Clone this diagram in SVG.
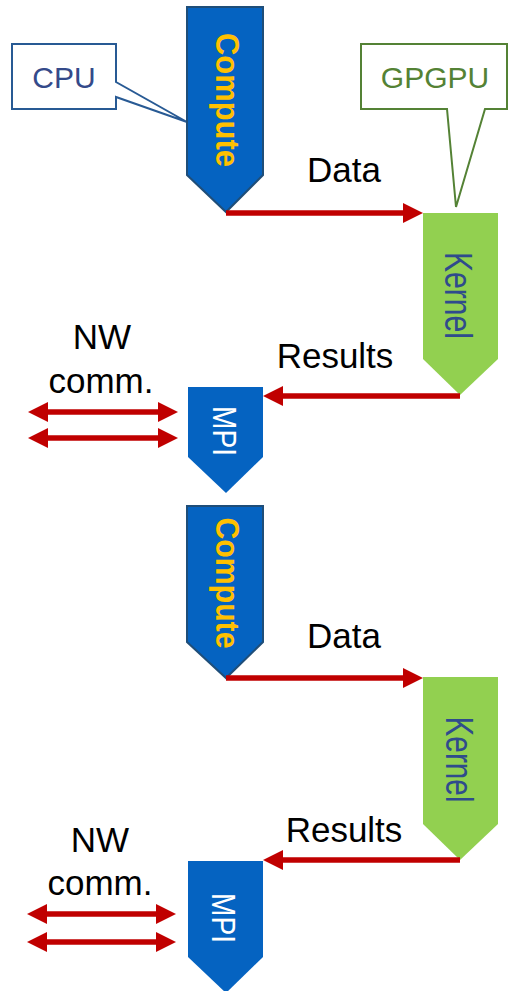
<svg xmlns="http://www.w3.org/2000/svg" width="509" height="991" viewBox="0 0 509 991">
  <style>
    .lbl { font-family: "Liberation Sans", Arial, sans-serif; font-size: 35px; fill: #000; text-anchor: middle; }
    .compute { fill: #0563C1; stroke: #1F4E79; stroke-width: 2; }
    .compute-txt { font-family: "Liberation Sans", Arial, sans-serif; font-weight: bold; font-size: 34px; fill: #FFC000; text-anchor: middle; }
    .kernel { fill: #92D050; }
    .kernel-txt { font-family: "Liberation Sans", Arial, sans-serif; font-size: 39px; fill: #2F4B8C; text-anchor: middle; }
    .mpi { fill: #0563C1; }
    .mpi-txt { font-family: "Liberation Sans", Arial, sans-serif; font-size: 34px; fill: #FFFFFF; text-anchor: middle; }
    .wire { fill: none; stroke: #C00000; stroke-width: 5.5; }
    .single { marker-end: url(#ah); }
    .double { marker-start: url(#ah); marker-end: url(#ah); }
    .callout-cpu { fill: #FFFFFF; stroke: #285A94; stroke-width: 2; }
    .callout-gpu { fill: #FFFFFF; stroke: #548235; stroke-width: 2; }
    .callout-txt { font-family: "Liberation Sans", Arial, sans-serif; font-size: 30px; text-anchor: middle; }
  </style>
  <defs>
    <marker id="ah" viewBox="0 0 20 20" refX="0" refY="10" markerWidth="20" markerHeight="20" markerUnits="userSpaceOnUse" orient="auto-start-reverse">
      <path d="M0,0 L20,10 L0,20 Z" fill="#C00000"/>
    </marker>
  </defs>

  <!-- callouts -->
  <g id="cpu-callout">
    <path class="callout-cpu" d="M12,44 H116 V82 L187,122 L116,97 V109 H12 Z"/>
    <text class="callout-txt" x="64" y="88" fill="#344A8A">CPU</text>
  </g>
  <g id="gpgpu-callout">
    <path class="callout-gpu" d="M361,44 H507 V109 H485 L456,207 L447,109 H361 Z"/>
    <text class="callout-txt" x="435" y="88" fill="#548235">GPGPU</text>
  </g>

  <!-- first iteration -->
  <g id="compute-1">
    <path class="compute" d="M187,7 H263 V175 L226,212 L187,175 Z"/>
    <text class="compute-txt" transform="translate(216,100) rotate(90)" textLength="134" lengthAdjust="spacingAndGlyphs">Compute</text>
  </g>
  <g id="kernel-1">
    <path class="kernel" d="M423,213 H498 V359 L460,395 L423,359 Z"/>
    <text class="kernel-txt" transform="translate(445,295.5) rotate(90)" textLength="87" lengthAdjust="spacingAndGlyphs">Kernel</text>
  </g>
  <g id="mpi-1">
    <path class="mpi" d="M188,387 H263 V457 L226,493 L188,457 Z"/>
    <text class="mpi-txt" transform="translate(212.5,431) rotate(90)" textLength="50" lengthAdjust="spacingAndGlyphs">MPI</text>
  </g>

  <!-- second iteration -->
  <g id="compute-2">
    <path class="compute" d="M187,506 H263 V642 L226,678 L187,642 Z"/>
    <text class="compute-txt" transform="translate(216,583) rotate(90)" textLength="131" lengthAdjust="spacingAndGlyphs">Compute</text>
  </g>
  <g id="kernel-2">
    <path class="kernel" d="M423,677 H498 V824 L460,860 L423,824 Z"/>
    <text class="kernel-txt" transform="translate(446,759.5) rotate(90)" textLength="86" lengthAdjust="spacingAndGlyphs">Kernel</text>
  </g>
  <g id="mpi-2">
    <path class="mpi" d="M188,861 H263 V957 L226,993 L188,957 Z"/>
    <text class="mpi-txt" transform="translate(212,918) rotate(90)" textLength="50" lengthAdjust="spacingAndGlyphs">MPI</text>
  </g>

  <!-- connectors -->
  <g id="connectors">
    <path class="wire single" d="M226,213 H403"/>
    <path class="wire single" d="M460,396 H283"/>
    <path class="wire double" d="M48,412 H158"/>
    <path class="wire double" d="M48,438 H158"/>

    <path class="wire single" d="M226,678 H403"/>
    <path class="wire single" d="M460,860 H283"/>
    <path class="wire double" d="M47,914 H156"/>
    <path class="wire double" d="M47,942 H156"/>
  </g>

  <!-- connector labels -->
  <g id="labels">
    <text class="lbl" x="344" y="182">Data</text>
    <text class="lbl" x="335" y="368">Results</text>
    <text class="lbl" x="102" y="349">NW</text>
    <text class="lbl" x="101" y="393">comm.</text>

    <text class="lbl" x="344" y="648">Data</text>
    <text class="lbl" x="344" y="842">Results</text>
    <text class="lbl" x="100" y="852">NW</text>
    <text class="lbl" x="100" y="895">comm.</text>
  </g>
</svg>
